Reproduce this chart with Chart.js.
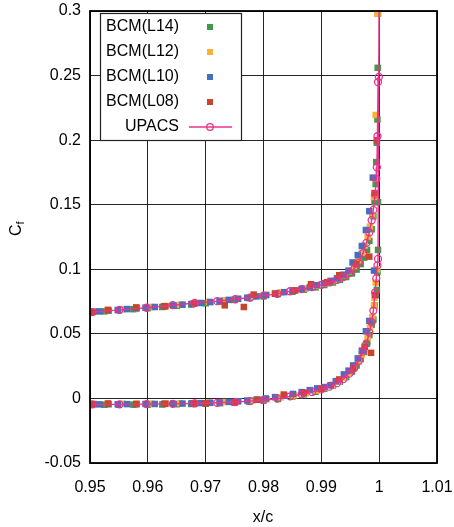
<!DOCTYPE html>
<html>
<head>
<meta charset="utf-8">
<script src="https://cdn.jsdelivr.net/npm/chart.js@4"></script>
<style>
  body { margin: 0; background: #fff; }
  canvas { display: block; }
</style>
</head>
<body>
<canvas id="cf-graph" width="454" height="527"></canvas>
<script>
// axis ticks
var xTicks = [0.95, 0.96, 0.97, 0.98, 0.99, 1.00, 1.01];
var yTicks = [-0.05, 0, 0.05, 0.1, 0.15, 0.2, 0.25, 0.3];

var seriesNames = ['BCM(L14)', 'BCM(L12)', 'BCM(L10)', 'BCM(L08)', 'UPACS'];
var seriesColors = ['rgb(61,154,70)', 'rgb(249,178,52)', 'rgb(68,110,192)', 'rgb(200,68,42)', 'rgb(232,52,142)'];

// [x/c, Cf] upper side then lower side, per mesh level
var l14Upper = [
    [0.9500, 0.0664], [0.9525, 0.0674], [0.9550, 0.0683], [0.9575, 0.0691], [0.9600, 0.0699],
    [0.9625, 0.0708], [0.9650, 0.0717], [0.9675, 0.0727], [0.9700, 0.0737], [0.9725, 0.0750],
    [0.9750, 0.0763], [0.9775, 0.0777], [0.9800, 0.0791], [0.9825, 0.0808], [0.9850, 0.0826],
    [0.9870, 0.0842], [0.9890, 0.0860], [0.9905, 0.0878], [0.9920, 0.0898], [0.9932, 0.0918],
    [0.9943, 0.0940], [0.9953, 0.0968], [0.9961, 0.0998], [0.9968, 0.1040], [0.9974, 0.1090],
    [0.9979, 0.1150], [0.9983, 0.1220], [0.9987, 0.1310], [0.9990, 0.1410], [0.9992, 0.1520],
    [0.9994, 0.1660], [0.9995, 0.1830], [0.9996, 0.1980], [0.9997, 0.2160], [0.99975, 0.2560],
    [0.9998, 0.2980]
];
var l14Lower = [
    [0.9500, -0.0050], [0.9525, -0.0049], [0.9550, -0.0049], [0.9575, -0.0048], [0.9600, -0.0048],
    [0.9625, -0.0047], [0.9650, -0.0045], [0.9675, -0.0043], [0.9700, -0.0041], [0.9725, -0.0037],
    [0.9750, -0.0032], [0.9775, -0.0025], [0.9800, -0.0016], [0.9825, -0.0004], [0.9850, 0.0015],
    [0.9870, 0.0032], [0.9890, 0.0052], [0.9905, 0.0074], [0.9920, 0.0100], [0.9932, 0.0130],
    [0.9943, 0.0165], [0.9953, 0.0208], [0.9961, 0.0255], [0.9968, 0.0305], [0.9974, 0.0360],
    [0.9979, 0.0425], [0.9983, 0.0490], [0.9987, 0.0570], [0.9990, 0.0610], [0.9992, 0.0720],
    [0.9994, 0.0800], [0.9996, 0.0840], [0.9997, 0.0980], [0.9998, 0.1150], [0.9998, 0.1520]
];

var l12Upper = [
    [0.9506, 0.0674], [0.9531, 0.0682], [0.9556, 0.0690], [0.9581, 0.0698], [0.9606, 0.0708],
    [0.9631, 0.0716], [0.9656, 0.0726], [0.9681, 0.0737], [0.9706, 0.0748], [0.9731, 0.0760],
    [0.9756, 0.0772], [0.9781, 0.0788], [0.9806, 0.0803], [0.9830, 0.0821], [0.9853, 0.0837],
    [0.9873, 0.0852], [0.9891, 0.0872], [0.9906, 0.0890], [0.9919, 0.0910], [0.9930, 0.0930],
    [0.9940, 0.0955], [0.9949, 0.0985], [0.9957, 0.1025], [0.9964, 0.1070], [0.9970, 0.1125],
    [0.9975, 0.1185], [0.9980, 0.1250], [0.9984, 0.1330], [0.9988, 0.1420], [0.9991, 0.1560],
    [0.9993, 0.1700], [0.9994, 0.2195], [0.9997, 0.2980]
];
var l12Lower = [
    [0.9506, -0.0042], [0.9531, -0.0042], [0.9556, -0.0041], [0.9581, -0.0040], [0.9606, -0.0040],
    [0.9631, -0.0039], [0.9656, -0.0037], [0.9681, -0.0035], [0.9706, -0.0032], [0.9731, -0.0028],
    [0.9756, -0.0022], [0.9781, -0.0015], [0.9806, -0.0006], [0.9830, 0.0008], [0.9853, 0.0024],
    [0.9873, 0.0041], [0.9891, 0.0062], [0.9906, 0.0082], [0.9919, 0.0106], [0.9930, 0.0132],
    [0.9940, 0.0162], [0.9949, 0.0198], [0.9957, 0.0240], [0.9964, 0.0290], [0.9970, 0.0340],
    [0.9975, 0.0400], [0.9980, 0.0470], [0.9984, 0.0545], [0.9988, 0.0630], [0.9991, 0.0720],
    [0.9992, 0.0780], [0.9994, 0.0897], [0.9996, 0.1000]
];

var l10Upper = [
    [0.9500, 0.0668], [0.9516, 0.0674], [0.9532, 0.0680], [0.9548, 0.0685], [0.9564, 0.0692],
    [0.9580, 0.0697], [0.9596, 0.0703], [0.9612, 0.0708], [0.9628, 0.0714], [0.9644, 0.0720],
    [0.9660, 0.0726], [0.9676, 0.0732], [0.9692, 0.0739], [0.9708, 0.0746], [0.9724, 0.0754],
    [0.9740, 0.0763], [0.9756, 0.0771], [0.9772, 0.0780], [0.9788, 0.0790], [0.9804, 0.0800],
    [0.9820, 0.0810], [0.9836, 0.0823], [0.9851, 0.0835], [0.9866, 0.0848], [0.9880, 0.0860],
    [0.9893, 0.0877], [0.9905, 0.0893], [0.9916, 0.0910], [0.9927, 0.0930], [0.9938, 0.0958],
    [0.9947, 0.0990], [0.9954, 0.1053], [0.9963, 0.1110], [0.9970, 0.1180], [0.9977, 0.1304],
    [0.9983, 0.1450], [0.9989, 0.1710]
];
var l10Lower = [
    [0.9500, -0.0046], [0.9516, -0.0046], [0.9532, -0.0045], [0.9548, -0.0045], [0.9564, -0.0044],
    [0.9580, -0.0044], [0.9596, -0.0043], [0.9612, -0.0043], [0.9628, -0.0042], [0.9644, -0.0041],
    [0.9660, -0.0040], [0.9676, -0.0038], [0.9692, -0.0036], [0.9708, -0.0034], [0.9724, -0.0031],
    [0.9740, -0.0027], [0.9756, -0.0022], [0.9772, -0.0016], [0.9788, -0.0009], [0.9804, 0.0000],
    [0.9820, 0.0010], [0.9836, 0.0022], [0.9851, 0.0035], [0.9866, 0.0049], [0.9880, 0.0064],
    [0.9893, 0.0078], [0.9905, 0.0088], [0.9916, 0.0102], [0.9925, 0.0134], [0.9939, 0.0186],
    [0.9947, 0.0215], [0.9955, 0.0255], [0.9963, 0.0310], [0.9970, 0.0370], [0.9977, 0.0520],
    [0.9983, 0.0600], [0.9991, 0.0990]
];

var l08Upper = [
    [0.9505, 0.0670], [0.9531, 0.0686], [0.9580, 0.0705], [0.9630, 0.0713], [0.9680, 0.0733],
    [0.9733, 0.0721], [0.9766, 0.0708], [0.9783, 0.0804], [0.9820, 0.0812], [0.9855, 0.0836],
    [0.9882, 0.0884], [0.9910, 0.0900], [0.9931, 0.0954], [0.9960, 0.1040], [0.9983, 0.1098],
    [0.9992, 0.1590], [0.9996, 0.2000]
];
var l08Lower = [
    [0.9505, -0.0046], [0.9531, -0.0039], [0.9580, -0.0044], [0.9630, -0.0042], [0.9680, -0.0039],
    [0.9700, -0.0038], [0.9750, -0.0030], [0.9790, -0.0010], [0.9835, 0.0030], [0.9870, 0.0045],
    [0.9900, 0.0075], [0.9931, 0.0147], [0.9955, 0.0230], [0.9975, 0.0400], [0.9986, 0.0353],
    [0.9993, 0.0800]
];

// reference solver, lower side to the trailing edge then back along the upper side
var upacsLower = [
    [0.9504, -0.0046], [0.9551, -0.0046], [0.9598, -0.0044], [0.9643, -0.0042], [0.9681, -0.0039],
    [0.9720, -0.0034], [0.9751, -0.0028], [0.9777, -0.0021], [0.9800, -0.0012], [0.9824, -0.0002],
    [0.9846, 0.0016], [0.9866, 0.0032], [0.9884, 0.0050], [0.9900, 0.0070], [0.9914, 0.0091],
    [0.9927, 0.0118], [0.9938, 0.0150], [0.9948, 0.0192], [0.9957, 0.0238], [0.9965, 0.0292],
    [0.9972, 0.0362], [0.9978, 0.0425], [0.9983, 0.0510], [0.9987, 0.0590], [0.9990, 0.0680],
    [0.9993, 0.0820], [0.9995, 0.0930], [0.9997, 0.1030], [0.9998, 0.1080]
];
var upacsUpper = [
    [1.0000, 0.3300], [0.99995, 0.2490], [0.9998, 0.2450], [0.9997, 0.2030], [0.9996, 0.1790],
    [0.9995, 0.1700], [0.9993, 0.1580], [0.9990, 0.1460], [0.9987, 0.1380], [0.9983, 0.1285],
    [0.9978, 0.1205], [0.9972, 0.1125], [0.9965, 0.1050], [0.9957, 0.1005], [0.9948, 0.0970],
    [0.9938, 0.0940], [0.9927, 0.0918], [0.9914, 0.0898], [0.9900, 0.0880], [0.9884, 0.0862],
    [0.9866, 0.0846], [0.9846, 0.0830], [0.9824, 0.0810], [0.9800, 0.0796], [0.9777, 0.0781],
    [0.9751, 0.0768], [0.9720, 0.0753], [0.9681, 0.0739], [0.9643, 0.0722], [0.9598, 0.0702],
    [0.9551, 0.0686], [0.9504, 0.0668]
];

function pts(arr) {
    return arr.map(function (p) { return {x: p[0], y: p[1]}; });
}

function fmt(v) {
    return String(Number(v.toFixed(2)));
}

Chart.defaults.font.family = "'Liberation Sans', Arial, sans-serif";
Chart.defaults.font.size = 16;
Chart.defaults.color = '#000';

function squares(i, data) {
    return {
        label: seriesNames[i],
        data: data,
        showLine: false,
        pointStyle: 'rect',
        pointRadius: 4.6,
        pointBorderWidth: 0,
        pointBackgroundColor: seriesColors[i],
        order: 5 - i
    };
}

// frame, axis titles and the gnuplot style key
var decor = {
    id: 'decor',
    afterDatasetsDraw: function (chart) {
        var ctx = chart.ctx, a = chart.chartArea;
        ctx.save();
        ctx.strokeStyle = '#000';
        ctx.lineWidth = 1.8;
        ctx.strokeRect(a.left, a.top, a.right - a.left, a.bottom - a.top);

        // key box
        var bx = 100.5, by = 13.5, bw = 141, bh = 127;
        ctx.fillStyle = '#fff';
        ctx.fillRect(bx, by, bw, bh);
        ctx.lineWidth = 1.2;
        ctx.strokeStyle = '#222';
        ctx.strokeRect(bx, by, bw, bh);

        ctx.font = "16px 'Liberation Sans', Arial, sans-serif";
        ctx.textAlign = 'right';
        ctx.textBaseline = 'middle';
        for (var i = 0; i < seriesNames.length; i++) {
            var y = 27 + 25 * i;
            ctx.fillStyle = '#000';
            ctx.fillText(seriesNames[i], 179, y);
            if (i < 4) {
                ctx.fillStyle = seriesColors[i];
                ctx.fillRect(207, y - 3, 6, 6);
            } else {
                ctx.strokeStyle = seriesColors[i];
                ctx.lineWidth = 1.3;
                ctx.beginPath();
                ctx.moveTo(189, y);
                ctx.lineTo(232, y);
                ctx.stroke();
                ctx.beginPath();
                ctx.arc(210, y, 3.3, 0, Math.PI * 2);
                ctx.stroke();
            }
        }

        // axis titles
        ctx.fillStyle = '#000';
        ctx.textAlign = 'center';
        ctx.textBaseline = 'alphabetic';
        ctx.fillText('x/c', 263, 522);

        ctx.translate(21, 228);
        ctx.rotate(-Math.PI / 2);
        ctx.textAlign = 'left';
        ctx.fillText('C', -8, 0);
        ctx.font = "11px 'Liberation Sans', Arial, sans-serif";
        ctx.fillText('f', 3.5, 3);
        ctx.restore();
    }
};

var ctx = document.getElementById('cf-graph').getContext('2d');

new Chart(ctx, {
    type: 'scatter',
    data: {
        datasets: [
            squares(0, pts(l14Upper).concat(pts(l14Lower))),
            squares(1, pts(l12Upper).concat(pts(l12Lower))),
            squares(2, pts(l10Upper).concat(pts(l10Lower))),
            squares(3, pts(l08Upper).concat(pts(l08Lower))),
            {
                label: seriesNames[4],
                data: pts(upacsLower).concat(pts(upacsUpper)),
                showLine: true,
                tension: 0,
                borderColor: seriesColors[4],
                borderWidth: 1.4,
                pointStyle: 'circle',
                pointRadius: 3.5,
                pointBorderWidth: 1.3,
                pointBorderColor: seriesColors[4],
                pointBackgroundColor: 'rgba(0,0,0,0)',
                order: 0
            }
        ]
    },
    options: {
        responsive: false,
        animation: false,
        layout: {padding: {left: 0, right: 17, top: 11, bottom: 0}},
        plugins: {
            legend: {display: false},
            tooltip: {enabled: false}
        },
        scales: {
            x: {
                type: 'linear',
                min: 0.95,
                max: 1.01,
                afterBuildTicks: function (s) { s.ticks = xTicks.map(function (v) { return {value: v}; }); },
                afterFit: function (s) {
                    s.height = 64;
                    s.paddingLeft = 0;
                    s.paddingRight = 0;
                },
                grid: {color: 'rgba(0,0,0,0.85)', lineWidth: 1, drawTicks: false},
                border: {display: false},
                ticks: {padding: 15, maxRotation: 0, autoSkip: false, callback: fmt}
            },
            y: {
                type: 'linear',
                min: -0.05,
                max: 0.3,
                afterBuildTicks: function (s) { s.ticks = yTicks.map(function (v) { return {value: v}; }); },
                afterFit: function (s) {
                    s.width = 90;
                    s.paddingTop = 0;
                    s.paddingBottom = 0;
                },
                grid: {color: 'rgba(0,0,0,0.85)', lineWidth: 1, drawTicks: false},
                border: {display: false},
                ticks: {padding: 9, autoSkip: false, callback: fmt}
            }
        }
    },
    plugins: [decor]
});
</script>
</body>
</html>
